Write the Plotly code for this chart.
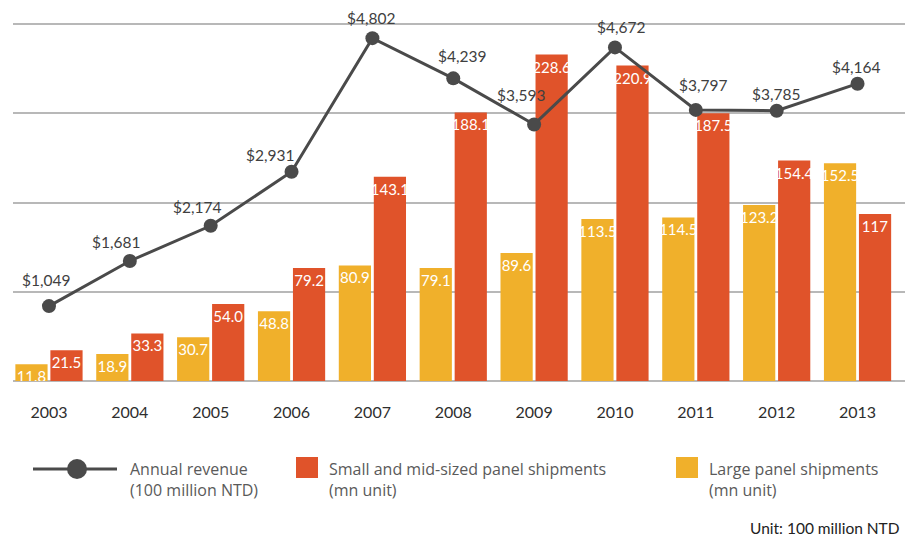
import plotly.graph_objects as go

years = ["2003", "2004", "2005", "2006", "2007", "2008", "2009", "2010", "2011", "2012", "2013"]
revenue = [1049, 1681, 2174, 2931, 4802, 4239, 3593, 4672, 3797, 3785, 4164]
small_mid = [21.5, 33.3, 54.0, 79.2, 143.1, 188.1, 228.6, 220.9, 187.5, 154.4, 117]
large = [11.8, 18.9, 30.7, 48.8, 80.9, 79.1, 89.6, 113.5, 114.5, 123.2, 152.5]
small_mid_labels = ["21.5", "33.3", "54.0", "79.2", "143.1", "188.1", "228.6", "220.9", "187.5", "154.4", "117"]
large_labels = ["11.8", "18.9", "30.7", "48.8", "80.9", "79.1", "89.6", "113.5", "114.5", "123.2", "152.5"]
revenue_labels = ["$1,049", "$1,681", "$2,174", "$2,931", "$4,802", "$4,239", "$3,593", "$4,672", "$3,797", "$3,785", "$4,164"]

# label offsets (px) relative to each revenue point: (dx, dy downward)
label_offsets = [(-3, -26), (-14, -19), (-14, -19), (-22, -17), (-1, -20), (9, -22),
                 (-13, -29), (6, -20), (7, -25), (-1, -17), (-2, -17)]

RED = "#E0532A"
YELLOW = "#F0B02B"
LINE = "#4a4a4a"
GRID = "#b8b8b8"

W, H = 905, 540
L, R, T, B = 13, 0, 19, 159
PW = W - L - R
PH = H - T - B


def px(x):
    return (x - L) / PW


def py(y):
    return (H - B - y) / PH


fig = go.Figure()

fig.add_trace(go.Bar(
    x=years, y=large, name="Large panel shipments (mn unit)",
    marker=dict(color=YELLOW, line=dict(width=0)),
    text=large_labels, textposition="inside", insidetextanchor="end",
    textangle=0, constraintext="none",
    textfont=dict(family="Lato", size=15, color="white"),
    showlegend=False,
))
fig.add_trace(go.Bar(
    x=years, y=small_mid, name="Small and mid-sized panel shipments (mn unit)",
    marker=dict(color=RED, line=dict(width=0)),
    text=small_mid_labels, textposition="inside", insidetextanchor="end",
    textangle=0, constraintext="none",
    textfont=dict(family="Lato", size=15, color="white"),
    showlegend=False,
))
fig.add_trace(go.Scatter(
    x=years, y=revenue, yaxis="y2", mode="lines+markers",
    name="Annual revenue (100 million NTD)",
    line=dict(color=LINE, width=3),
    marker=dict(color=LINE, size=14),
    showlegend=False,
))

annotations = []
for i, (v, lab, (dx, dy)) in enumerate(zip(revenue, revenue_labels, label_offsets)):
    annotations.append(dict(
        x=i, y=v, xref="x", yref="y2", text=lab, showarrow=False,
        xshift=dx, yshift=-dy, xanchor="center", yanchor="middle",
        font=dict(family="Lato", size=15.5, color="#404040"),
    ))

legend_font = dict(family="Open Sans", size=16, color="#5a5a5a")
annotations += [
    dict(x=px(128), y=py(479.5), xref="paper", yref="paper", xanchor="left", yanchor="middle",
         text="Annual revenue<br>(100 million NTD)", showarrow=False, align="left", font=legend_font),
    dict(x=px(327), y=py(479.5), xref="paper", yref="paper", xanchor="left", yanchor="middle",
         text="Small and mid-sized panel shipments<br>(mn unit)", showarrow=False, align="left", font=legend_font),
    dict(x=px(707), y=py(479.5), xref="paper", yref="paper", xanchor="left", yanchor="middle",
         text="Large panel shipments<br>(mn unit)", showarrow=False, align="left", font=legend_font),
    dict(x=px(748), y=py(528), xref="paper", yref="paper", xanchor="left", yanchor="middle",
         text="Unit: 100 million NTD", showarrow=False, align="left",
         font=dict(family="Lato", size=15.5, color="#222222")),
]

shapes = [
    dict(type="line", xref="paper", yref="paper", x0=px(33), x1=px(117), y0=py(469), y1=py(469),
         line=dict(color=LINE, width=3)),
    dict(type="circle", xref="paper", yref="paper", x0=px(67), x1=px(87), y0=py(479), y1=py(459),
         fillcolor=LINE, line=dict(color=LINE, width=0)),
    dict(type="rect", xref="paper", yref="paper", x0=px(296), x1=px(318), y0=py(478), y1=py(457),
         fillcolor=RED, line=dict(width=0)),
    dict(type="rect", xref="paper", yref="paper", x0=px(676), x1=px(698), y0=py(478), y1=py(457),
         fillcolor=YELLOW, line=dict(width=0)),
]

fig.update_layout(
    width=W, height=H,
    margin=dict(l=L, r=R, t=T, b=B, pad=0),
    paper_bgcolor="white", plot_bgcolor="white",
    barmode="group", bargap=0.134, bargroupgap=0.08,
    showlegend=False,
    xaxis=dict(type="category", range=[-0.445, 10.587], showgrid=False, zeroline=False,
               showline=False, ticks="", ticklabelstandoff=20,
               tickfont=dict(family="Lato", size=16, color="#2e2e2e")),
    yaxis=dict(range=[0, 253.5], tick0=0, dtick=62.5, showgrid=True, gridcolor=GRID, gridwidth=1.5,
               zeroline=True, zerolinecolor=GRID, zerolinewidth=1.5, showticklabels=False, ticks=""),
    yaxis2=dict(range=[0, 5070], overlaying="y", side="right", showgrid=False, zeroline=False,
                showticklabels=False, ticks=""),
    annotations=annotations,
    shapes=shapes,
)

fig.write_html(
    "out.html",
    config={"displayModeBar": False},
    post_script="document.body.style.margin='0';document.body.style.overflow='hidden';",
)
